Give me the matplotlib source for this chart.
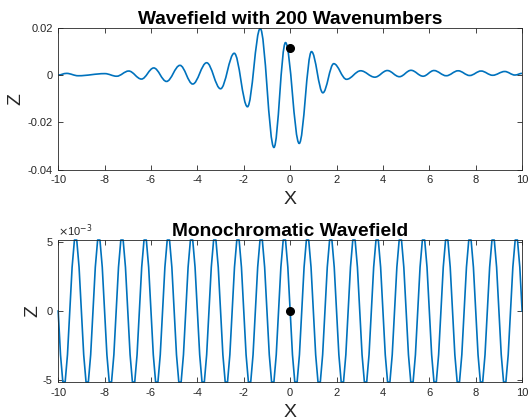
import matplotlib
matplotlib.use("Agg")
import matplotlib.pyplot as plt
import numpy as np
from matplotlib.path import Path
from matplotlib.patches import PathPatch
from matplotlib.ticker import FuncFormatter

plt.rcParams['font.family'] = ['Liberation Sans', 'DejaVu Sans']
plt.rcParams['axes.unicode_minus'] = False

# wave packet: turning points
packet_x = [-10, -9.64, -9.14, -7.99, -7.48, -6.96, -6.41, -5.88, -5.33, -4.75,
            -4.20, -3.60, -3.00, -2.41, -1.84, -1.29, -0.70, -0.20, 0.39, 0.92,
            1.41, 1.88, 2.43, 3.04, 3.65, 4.19, 4.71, 5.21, 5.73, 6.20,
            6.73, 7.24, 7.74, 8.23, 8.73, 9.25, 9.69, 10]
packet_z = [0.0, 0.7, -0.3, 0.6, -0.5, 1.7, -1.7, 3.0, -2.7, 4.1,
            -3.8, 5.2, -5.8, 9.2, -13.4, 19.7, -30.6, 13.7, -28.9, 9.9,
            -7.5, 4.8, -1.8, 1.8, -0.9, 1.9, -0.7, 2.0, -0.5, 1.9,
            -0.3, 1.8, -0.2, 1.7, -0.1, 1.5, 0.0, 0.7]  # x 1e-3
packet_dot = (0.0, 11.5e-3)

mono_cycle = [0, -3.18, -5.15, -5.15, -3.18, 0, 3.18, 5.15, 5.15, 3.18]  # x 1e-3
mono_periods = 20
mono_dot = (0.0, 0.0)

x_ticks = [-10, -8, -6, -4, -2, 0, 2, 4, 6, 8, 10]
top_yticks = [-0.04, -0.02, 0, 0.02]
bot_yticks = [-5e-3, 0, 5e-3]

line_col = '#0072BD'
ax_col = '#262626'

fig = plt.figure(figsize=(5.29, 4.2), dpi=100)
ax1 = fig.add_axes([0.110, 0.596, 0.877, 0.338])
ax2 = fig.add_axes([0.110, 0.0905, 0.877, 0.338])

# smooth curve through the turning points (cubic Bezier, flat at each extremum)
px = np.array(packet_x)
pz = np.array(packet_z) * 1e-3
verts = [(px[0], pz[0])]
codes = [Path.MOVETO]
for i in range(len(px) - 1):
    d = px[i + 1] - px[i]
    verts += [(px[i] + 0.3642 * d, pz[i]), (px[i + 1] - 0.3642 * d, pz[i + 1]),
              (px[i + 1], pz[i + 1])]
    codes += [Path.CURVE4] * 3
ax1.add_patch(PathPatch(Path(verts, codes), facecolor='none', edgecolor=line_col, lw=1.2))
ax1.plot(*packet_dot, 'o', color='black', ms=5.5)
ax1.set_xlim(-10, 10)
ax1.set_ylim(-0.04, 0.02)
ax1.set_yticks(top_yticks)
ax1.yaxis.set_major_formatter(FuncFormatter(lambda v, p: f'{v:g}'))
ax1.set_title('Wavefield with 200 Wavenumbers', fontsize=13.8, fontweight='bold', pad=3)

mono_x = np.round(np.linspace(-10, 10, 10 * mono_periods + 1), 1)
mono_z = np.append(np.tile(mono_cycle, mono_periods), mono_cycle[0]) * 1e-3
ax2.plot(mono_x, mono_z, color=line_col, lw=1.2, clip_on=False)
ax2.plot(*mono_dot, 'o', color='black', ms=5.5)
ax2.set_xlim(-10, 10)
ax2.set_ylim(-5.15e-3, 5.15e-3)
ax2.set_yticks(bot_yticks)
ax2.yaxis.set_major_formatter(FuncFormatter(lambda v, p: f'{v * 1e3:g}'))
ax2.text(0.0, 1.01, r'$\times$10$^{-3}$', transform=ax2.transAxes, fontsize=8,
         color=ax_col, ha='left', va='bottom')
ax2.set_title('Monochromatic Wavefield', fontsize=13.8, fontweight='bold', pad=3)

for ax in (ax1, ax2):
    ax.set_xticks(x_ticks)
    ax.xaxis.set_major_formatter(FuncFormatter(lambda v, p: f'{v:g}'))
    ax.tick_params(direction='in', top=True, right=True, length=3.5, width=0.6,
                   labelsize=8, colors=ax_col, pad=4)
    for s in ax.spines.values():
        s.set_color(ax_col)
        s.set_linewidth(0.6)
    ax.set_xlabel('X', fontsize=14, color=ax_col, labelpad=4.5)
ax1.set_ylabel('Z', fontsize=14, color=ax_col, labelpad=2)
ax2.set_ylabel('Z', fontsize=14, color=ax_col, labelpad=1)

fig.savefig('out.png', dpi=100)
